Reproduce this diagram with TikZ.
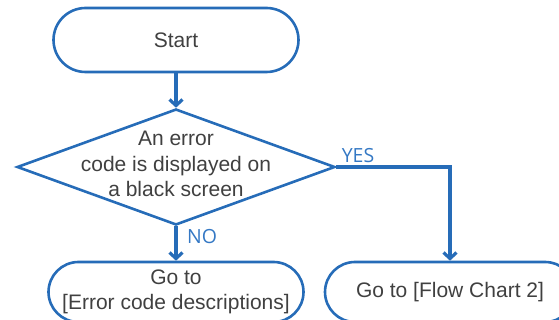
\documentclass[tikz,border=0pt]{standalone}
\usepackage{fontspec}
\setmainfont{Liberation Sans}
\newfontfamily\answerfont{Open Sans}
\usepackage{xcolor}
\usetikzlibrary{arrows.meta,shapes.geometric}
\definecolor{flowblue}{RGB}{38,108,184}
\definecolor{textgray}{RGB}{64,64,64}
\definecolor{answerblue}{RGB}{52,120,196}

\begin{document}
\begin{tikzpicture}[x=1pt, y=1pt, font=\fontsize{21}{25.5}\selectfont,
    terminal/.style={draw=flowblue, line width=2.6pt, rounded corners=30pt,
        minimum height=60pt, text=textgray, align=center, inner sep=0pt},
    decision/.style={draw=flowblue, line width=2.6pt, diamond,
        minimum width=318pt, minimum height=116pt, inner sep=0pt},
    flow/.style={draw=flowblue, line width=3.2pt,
        -{Straight Barb[length=6pt,width=13pt]}},
    answer/.style={text=answerblue, font=\answerfont\fontsize{19.5}{22}\selectfont,
        inner sep=0pt}]
    \useasboundingbox (0,0) rectangle (559,-320);
    % start and decision
    \node[terminal, minimum width=245pt, minimum height=64pt, rounded corners=32pt]
        (start) at (176,-40) {Start};
    \node[decision] (dec) at (176,-167) {};
    \node[text=textgray, align=center] (dectext) at (176,-164)
        {An error\\code is displayed on\\a black screen};
    % the two outcomes
    \node[terminal, minimum width=255pt] (errdesc) at (176,-292)
        {Go to\\{[}Error code descriptions]};
    \node[terminal, minimum width=250pt] (chart2) at (450,-292)
        {Go to [Flow Chart 2]};
    \draw[flow] (start.south) -- (dec.north);
    \draw[flow] (dec.south) -- (errdesc.north);
    \draw[flow] (dec.east) -| (chart2.north);
    \node[answer] (yes) at (358,-156) {YES};
    \node[answer] (no) at (202,-237) {NO};
\end{tikzpicture}
\end{document}
